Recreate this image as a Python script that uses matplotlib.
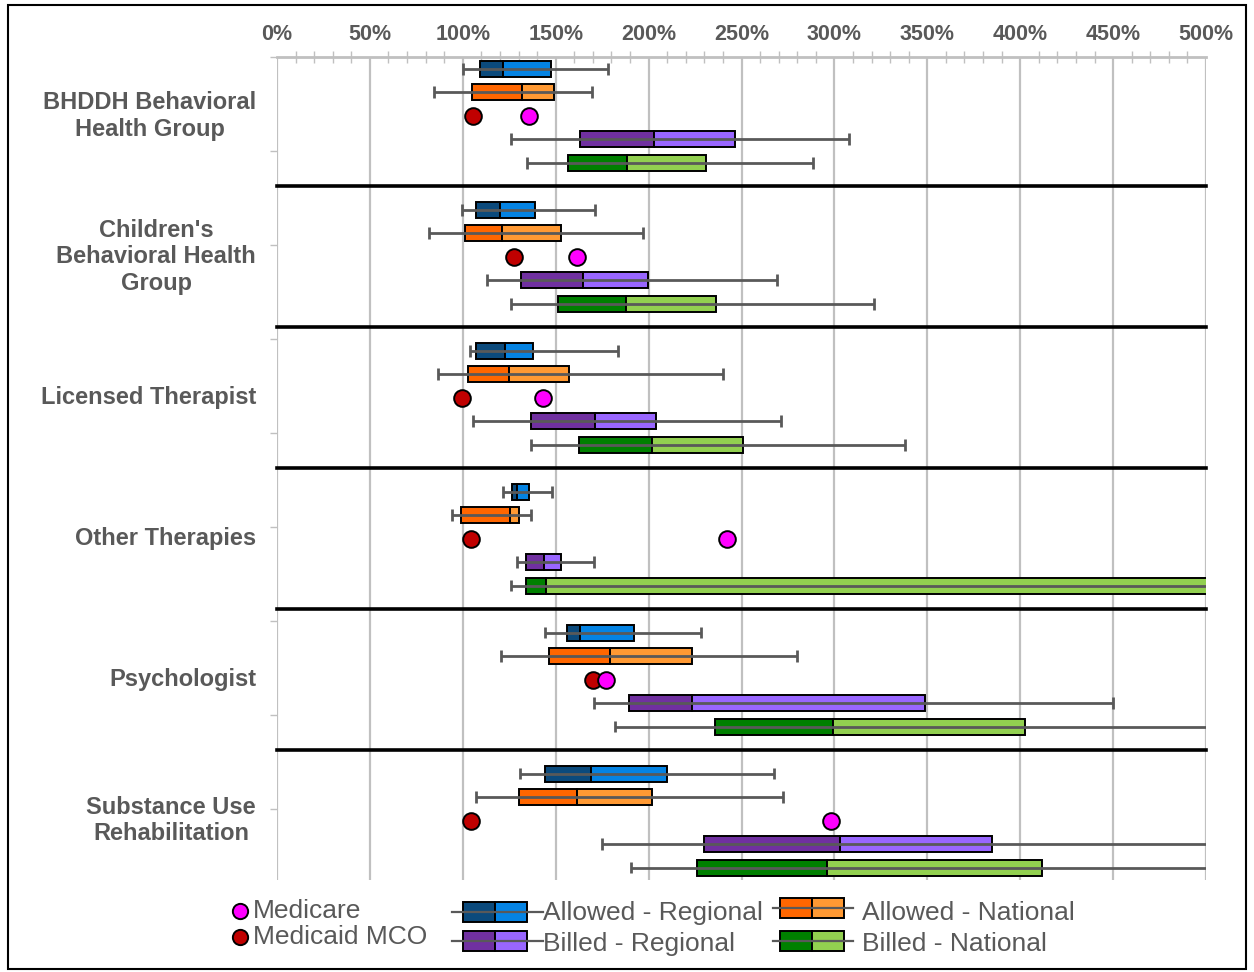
import matplotlib
matplotlib.use('Agg')
import matplotlib.pyplot as plt
from matplotlib.patches import Rectangle

plt.rcParams['font.family'] = ['Liberation Sans', 'DejaVu Sans']

# 数据：每个类别 [最小, Q1, 中位数, Q3, 最大] (%)
categories = ['BHDDH Behavioral\nHealth Group',
              "Children's\nBehavioral Health\nGroup",
              'Licensed Therapist',
              'Other Therapies',
              'Psychologist',
              'Substance Use\nRehabilitation']

allowed_regional = [[100, 109, 121.5, 147.5, 178],
                    [99.5, 107.3, 120, 139, 171],
                    [103.7, 107, 122.7, 138, 183.5],
                    [121.7, 126.6, 129.3, 135.6, 148],
                    [144, 156, 163.3, 192.2, 228.3],
                    [131, 144, 169, 210, 267.5]]
allowed_national = [[84.4, 105.2, 131.8, 149, 169.5],
                    [82, 101, 121.3, 152.8, 197],
                    [86.7, 103, 124.8, 157, 240],
                    [94.4, 99, 125.2, 130.2, 136.7],
                    [120.6, 146.4, 179, 223.3, 280],
                    [107, 130, 161.7, 201.7, 272.6]]
billed_regional = [[126, 163.2, 202.7, 246.5, 308],
                   [113, 131.2, 164.7, 199.5, 269],
                   [105.6, 136.8, 171, 204, 271.4],
                   [129.3, 134, 143.8, 153, 170.4],
                   [170.7, 189.3, 223.3, 348.6, 450],
                   [175, 229.7, 303, 384.8, 530]]
billed_national = [[134.5, 156.7, 188.2, 230.7, 288.6],
                   [126.2, 151.3, 188, 236.5, 321.4],
                   [136.6, 162.8, 202, 250.8, 338],
                   [125.7, 134, 145, 560, 620],
                   [181.8, 235.5, 299.4, 402.5, 530],
                   [190.7, 226.3, 296, 412, 530]]
medicare = [135.4, 161.6, 143.3, 242.1, 177.2, 298.2]
medicaid_mco = [105.4, 127.5, 99.4, 104.3, 170, 104.4]

series = [('Allowed - Regional', allowed_regional, '#0b4a7c', '#0483e3', 1),
          ('Allowed - National', allowed_national, '#ff6600', '#ff9933', 2),
          ('Billed - Regional', billed_regional, '#7030a0', '#9966ff', 4),
          ('Billed - National', billed_national, '#008000', '#92d050', 5)]

gray = '#595959'
W, H = 1254, 972
fig = plt.figure(figsize=(W / 100, H / 100), dpi=100)
ax = fig.add_axes([277 / W, 1 - 880 / H, 929 / W, 823 / H])

bh = 0.68
for name, data, dark, light, row in series:
    for g, (mn, q1, med, q3, mx) in enumerate(data):
        y = g * 6 + row
        ax.barh(y, med - q1, left=q1, height=bh, color=dark, edgecolor='black', linewidth=1.4, zorder=2)
        ax.barh(y, q3 - med, left=med, height=bh, color=light, edgecolor='black', linewidth=1.4, zorder=2)
        ax.hlines(y, mn, mx, color=gray, linewidth=2, zorder=3)
        ax.vlines([mn, mx], y - 0.25, y + 0.25, color=gray, linewidth=2, zorder=3)

for g in range(len(categories)):
    y = g * 6 + 3
    ax.plot(medicaid_mco[g], y, 'o', ms=12, mfc='#c00000', mec='black', mew=1.4, zorder=4)
    ax.plot(medicare[g], y, 'o', ms=12, mfc='#ff00ff', mec='black', mew=1.4, zorder=4)
    ax.text(-0.0226, y, categories[g], transform=ax.get_yaxis_transform(),
            ha='right', va='center', multialignment='center',
            fontsize=17, fontweight='bold', color=gray)

# 分组分隔线
for g in range(1, len(categories)):
    ax.axhline(g * 6, color='black', linewidth=2.6, zorder=5, clip_on=False)

ax.set_xlim(0, 500)
ax.set_ylim(35.53, 0.5)
ax.set_xticks(range(0, 501, 50))
ax.set_xticklabels([f'{v}%' for v in range(0, 501, 50)])
ax.set_xticks(range(0, 501, 10), minor=True)
ax.xaxis.tick_top()
ax.tick_params(axis='x', which='major', labelsize=15.5, colors='#c0c0c0', labelcolor=gray,
               length=0, pad=9)
ax.tick_params(axis='x', which='minor', direction='inout', length=8, width=1, colors='#c0c0c0')
for lbl in ax.get_xticklabels():
    lbl.set_fontweight('bold')
ax.set_yticks([0.5 + 4 * k for k in range(9)])
ax.set_yticklabels([])
ax.tick_params(axis='y', length=5, width=1, colors='#c0c0c0')
ax.grid(axis='x', color='#c0c0c0', linewidth=1.6, zorder=0)
ax.set_axisbelow(True)
for s in ['left', 'right', 'bottom']:
    ax.spines[s].set_visible(False)
ax.spines['top'].set_color('#c0c0c0')
ax.spines['top'].set_linewidth(2)

# 图例（像素坐标）
lax = fig.add_axes([0, 0, 1, 1], facecolor='none')
lax.set_xlim(0, W)
lax.set_ylim(H, 0)
lax.axis('off')
lax.add_patch(Rectangle((8, 5), 1238, 964, fill=False, edgecolor='black', linewidth=1.5))

lax.plot(240, 911, 'o', ms=11, mfc='#ff00ff', mec='black', mew=1.4)
lax.plot(240, 937, 'o', ms=11, mfc='#c00000', mec='black', mew=1.4)
lax.text(253, 911, 'Medicare', fontsize=19, color=gray, va='center')
lax.text(253, 937, 'Medicaid MCO', fontsize=19, color=gray, va='center')

legend_pos = [(463, 912, 452, 543, 543), (780, 908, 773, 853, 862),
              (463, 941, 452, 543, 543), (780, 941, 773, 853, 862)]
for (name, data, dark, light, row), (bx, by, wl, wr, tx) in zip(series, legend_pos):
    lax.add_patch(Rectangle((bx, by - 10), 32, 20, facecolor=dark, edgecolor='black', linewidth=1.4))
    lax.add_patch(Rectangle((bx + 32, by - 10), 32, 20, facecolor=light, edgecolor='black', linewidth=1.4))
    lax.plot([wl, wr], [by, by], color=gray, linewidth=1.6)
    lax.text(tx, 913 if by < 925 else 944, name, fontsize=19, color=gray, va='center')

fig.savefig('out.png', dpi=100)
